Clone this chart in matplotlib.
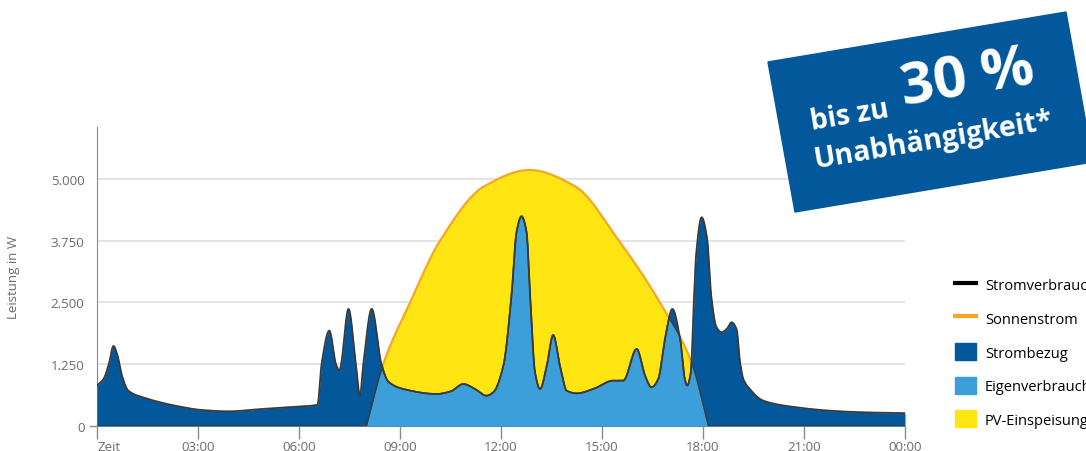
import numpy as np
import matplotlib
matplotlib.use('Agg')
import matplotlib.pyplot as plt
from matplotlib.lines import Line2D
from matplotlib.patches import Patch, Polygon

plt.rcParams['font.family'] = ['Open Sans', 'DejaVu Sans']

# Stromverbrauch (hour of day, watts)
cons_h = [0.0, 0.2, 0.35, 0.49, 0.6, 0.75, 0.93, 1.43, 2.42, 3.11, 3.9, 4.89, 5.88, 6.55,
          6.67, 6.9, 7.1, 7.2, 7.25, 7.47, 7.69, 7.81, 7.91, 8.16, 8.45, 8.65, 9.1, 10.09,
          10.5, 10.88, 11.23, 11.57, 11.77, 12.07, 12.32, 12.46, 12.61, 12.76, 12.86, 13.01,
          13.16, 13.36, 13.55, 13.75, 13.95, 14.25, 14.74, 15.33, 15.63, 16.03, 16.28, 16.47,
          16.67, 16.87, 17.09, 17.32, 17.46, 17.53, 17.64, 17.72, 17.8, 17.96, 18.12, 18.25,
          18.4, 18.55, 18.7, 18.85, 19.0, 19.1, 19.2, 19.39, 19.79, 20.78, 21.77, 22.76, 24.0]
cons_w = [820, 960, 1250, 1620, 1450, 1000, 715, 567, 398, 324, 297, 344, 391, 430,
          1250, 1930, 1250, 1120, 1250, 2370, 1250, 614, 1250, 2370, 1250, 900, 749, 648,
          700, 850, 749, 614, 682, 1221, 2706, 3920, 4244, 3920, 2706, 1087,
          749, 1221, 1842, 1221, 715, 661, 749, 918, 918, 1558, 1019, 783,
          951, 1761, 2368, 1761, 951, 820, 1100, 2400, 3500, 4224, 3800, 2600,
          2000, 1897, 1960, 2099, 1950, 1300, 950, 749, 513, 378, 310, 277, 260]

# Sonnenstrom (hour of day, watts)
sun_h = [8.0, 8.5, 9.3, 10.19, 11.5, 12.85, 14.2, 15.5, 16.72, 17.68, 18.16]
sun_w = [0, 1250, 2500, 3750, 4850, 5180, 4850, 3750, 2500, 1250, 0]

tick_pos = [0, 3, 6, 9, 12, 15, 18, 21, 24]
tick_lbl = ['Zeit', '03:00', '06:00', '09:00', '12:00', '15:00', '18:00', '21:00', '00:00']
ytick_pos = [0, 1250, 2500, 3750, 5000]
ytick_lbl = ['0', '1.250', '2.500', '3.750', '5.000']

legend_lbl = ['Stromverbrauch', 'Sonnenstrom', 'Strombezug', 'Eigenverbrauch', 'PV-Einspeisung']

DARK = '#02589b'
LIGHT = '#3d9fda'
YELLOW = '#ffe512'
ORANGE = '#f6a623'
GREY = '#6b6b6b'


def pchip(x, y, xn):
    # monotone cubic curve through the read points (spline look of the original)
    x = np.asarray(x, float)
    y = np.asarray(y, float)
    h = np.diff(x)
    d = np.diff(y) / h
    m = np.zeros_like(y)
    for k in range(1, len(y) - 1):
        if d[k - 1] * d[k] > 0:
            w1 = 2 * h[k] + h[k - 1]
            w2 = h[k] + 2 * h[k - 1]
            m[k] = (w1 + w2) / (w1 / d[k - 1] + w2 / d[k])
    m[0] = d[0]
    m[-1] = d[-1]
    i = np.clip(np.searchsorted(x, xn) - 1, 0, len(h) - 1)
    t = (xn - x[i]) / h[i]
    return ((2 * t**3 - 3 * t**2 + 1) * y[i] + (t**3 - 2 * t**2 + t) * h[i] * m[i]
            + (-2 * t**3 + 3 * t**2) * y[i + 1] + (t**3 - t**2) * h[i] * m[i + 1])


tt = np.linspace(0, 24, 4001)
cons = pchip(cons_h, cons_w, tt)
sun = np.where((tt >= sun_h[0]) & (tt <= sun_h[-1]), pchip(sun_h, sun_w, tt), 0)
sun = np.clip(sun, 0, None)
own = np.minimum(cons, sun)

fig = plt.figure(figsize=(10.86, 4.52), dpi=100)
ax = fig.add_axes([97 / 1086, 1 - 427 / 452, 808 / 1086, 299 / 452])

ax.fill_between(tt, 0, sun, color=YELLOW, lw=0, zorder=2)
ax.plot(tt[sun > 0], sun[sun > 0], color=ORANGE, lw=1.6, zorder=2.1)
ax.fill_between(tt, 0, cons, color=DARK, lw=0, zorder=3)
ax.fill_between(tt, 0, own, color=LIGHT, lw=0, zorder=4)
ax.plot(tt, own, color='#3a3a3a', lw=1.1, zorder=5)
ax.plot(tt, cons, color='#3a3a3a', lw=1.3, zorder=6)

ax.set_xlim(0, 24)
ax.set_ylim(0, 6050)
ax.set_yticks(ytick_pos)
ax.set_yticklabels(ytick_lbl)
ax.set_xticks(tick_pos)
ax.set_xticklabels(tick_lbl)
ax.get_xticklabels()[0].set_ha('left')
ax.grid(axis='y', color='#dcdcdc', lw=1.1, zorder=0)
ax.set_axisbelow(True)
ax.tick_params(axis='y', length=0, pad=9, labelsize=9.5, labelcolor=GREY)
ax.tick_params(axis='x', length=9, width=1, color='#8a8a8a', pad=1, labelsize=9.5, labelcolor=GREY)
for s in ['top', 'right']:
    ax.spines[s].set_visible(False)
ax.spines['left'].set_color('#8a8a8a')
ax.spines['bottom'].set_color('#b0b0b0')
ax.plot([-0.009, 0], [0, 0], color='#8a8a8a', lw=1, transform=ax.get_yaxis_transform(), clip_on=False)
ax.set_ylabel('Leistung in W', color=GREY, fontsize=9.5)
ax.yaxis.set_label_coords(-0.095, 0.5)

handles = [Line2D([], [], color='black', lw=3),
           Line2D([], [], color=ORANGE, lw=3),
           Patch(color=DARK), Patch(color=LIGHT), Patch(color=YELLOW)]
fig.legend(handles, legend_lbl, loc='upper left', bbox_to_anchor=(955 / 1086, 1 - 277 / 452),
           frameon=False, fontsize=10.5, borderpad=0, borderaxespad=0, handlelength=1.45,
           handleheight=1.45, handletextpad=0.6, labelspacing=1.1)

# rotated banner
corners = [(768, 63), (1066, 13), (1093, 163), (795, 213)]
fig.add_artist(Polygon([(x / 1086, 1 - y / 452) for x, y in corners], closed=True,
                       transform=fig.transFigure, color=DARK, zorder=10))
ang = 9.5
fig.text(812 / 1086, 1 - 130 / 452, 'bis zu', color='white', fontsize=20, fontweight='bold',
         rotation=ang, rotation_mode='anchor', ha='left', va='baseline', zorder=11)
fig.text(904 / 1086, 1 - 106 / 452, '30 %', color='white', fontsize=42, fontweight='bold',
         rotation=ang, rotation_mode='anchor', ha='left', va='baseline', zorder=11)
fig.text(815 / 1086, 1 - 168 / 452, 'Unabhängigkeit*', color='white', fontsize=20.5, fontweight='bold',
         rotation=ang, rotation_mode='anchor', ha='left', va='baseline', zorder=11)

fig.savefig('out.png', dpi=100)
